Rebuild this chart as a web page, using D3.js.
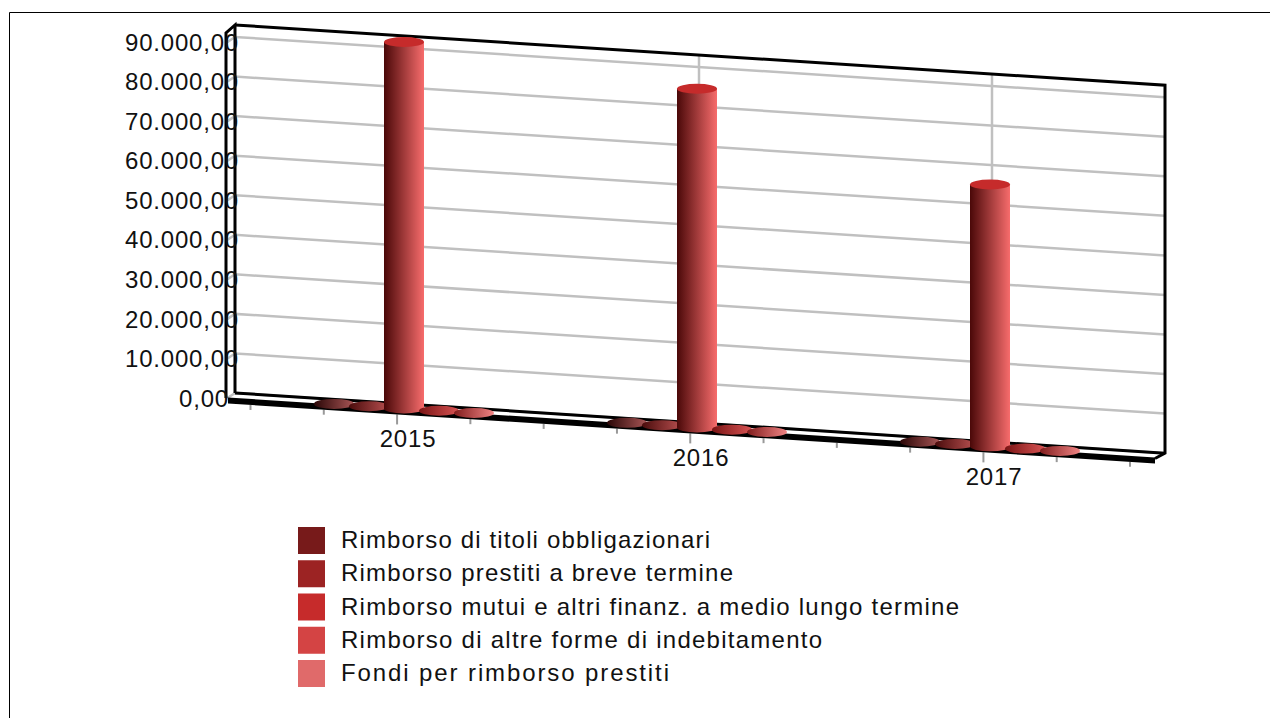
<!DOCTYPE html>
<html>
<head>
<meta charset="utf-8">
<script src="https://cdn.jsdelivr.net/npm/d3@7"></script>
<style>
  html, body { margin: 0; padding: 0; background: #fff; }
  svg { display: block; }
  text { font-family: "Liberation Sans", Arial, sans-serif; fill: #111; }
</style>
</head>
<body>
<div id="chart"></div>
<script>
const years = ["2015", "2016", "2017"];
const seriesNames = [
  "Rimborso di titoli obbligazionari",
  "Rimborso prestiti a breve termine",
  "Rimborso mutui e altri finanz. a medio lungo termine",
  "Rimborso di altre forme di indebitamento",
  "Fondi per rimborso prestiti"
];
const titoli = [0, 0, 0];
const breve = [0, 0, 0];
const mutui = [92650, 85600, 66200];
const altre = [0, 0, 0];
const fondi = [0, 0, 0];
const seriesValues = [titoli, breve, mutui, altre, fondi];
const legendColors = ["#771a1a", "#9c2323", "#c62b2b", "#d44444", "#e06a6a"];
const discStops = [
  ["#2a0606", "#a85656"],
  ["#4a0c0c", "#b85050"],
  ["#4a0808", "#f76c6c"],
  ["#7a1414", "#d85454"],
  ["#801c1c", "#f08484"]
];
const gridTicks = d3.range(0, 90001, 10000);

const width = 1270, height = 718;
const wallLeft = 235, wallRight = 1165;
const slope = 0.0647, depth = 4.5;

const svg = d3.select("#chart").append("svg").attr("width", width).attr("height", height);

const it = d3.formatLocale({ decimal: ",", thousands: ".", grouping: [3], currency: ["", ""] });

// y is read on the back wall, then sheared along the slope of the box
const y = d3.scaleLinear().domain([0, 90000]).range([393, 37]);
const shear = px => slope * (px - wallLeft);
const x = d3.scalePoint().domain(years).range([397, 983]);
const offset = d3.scalePoint().domain(d3.range(5)).range([-70, 70]);
const tickX = d3.scaleLinear().domain([0, 12]).range([250.5, 1130]);
const frontTop = px => 397.5 + slope * (px - 228);
const frontBottom = px => 403.5 + slope * (px - 228);

const defs = svg.append("defs");
discStops.forEach(function(s, i) {
  let g = defs.append("linearGradient").attr("id", "grad" + i);
  g.append("stop").attr("offset", "0%").attr("stop-color", s[0]);
  g.append("stop").attr("offset", "100%").attr("stop-color", s[1]);
});

// page frame
svg.append("path").attr("d", "M9.5,718V12.5H1270").attr("fill", "none").attr("stroke", "#000");

// gridlines
svg.append("g").selectAll("path")
  .data(gridTicks)
  .enter().append("path")
  .attr("d", d => `M226,${y(d) + 6}L${wallLeft},${y(d)}L${wallRight},${y(d) + shear(wallRight)}`)
  .attr("fill", "none")
  .attr("stroke", "#c0c0c0")
  .attr("stroke-width", 2.5);

// drop lines above the columns
const topEdge = px => 25 + shear(px);
svg.append("g").selectAll("line")
  .data(years)
  .enter().append("line")
  .attr("x1", d => x(d) + 9)
  .attr("x2", d => x(d) + 9)
  .attr("y1", d => topEdge(x(d) + 9))
  .attr("y2", d => y(mutui[years.indexOf(d)]) + shear(x(d) + 9))
  .attr("stroke", "#c0c0c0")
  .attr("stroke-width", 2.5);

// category axis ticks
svg.append("g").selectAll("line")
  .data(d3.range(13))
  .enter().append("line")
  .attr("x1", d => tickX(d))
  .attr("x2", d => tickX(d))
  .attr("y1", d => frontBottom(tickX(d)))
  .attr("y2", d => frontBottom(tickX(d)) + (d % 4 === 2 ? 10 : 5))
  .attr("stroke", "#999")
  .attr("stroke-width", 2);

// box outline
const box = svg.append("g").attr("fill", "none").attr("stroke", "#000").attr("stroke-width", 3);
box.append("path").attr("d", `M226,398V33L${wallLeft},25V393`);
box.append("path").attr("d", `M${wallLeft},25L${wallRight},${topEdge(wallRight)}V${393 + shear(wallRight)}L1155,${frontTop(1155) + 1}`);
box.append("path").attr("d", `M${wallLeft},393L${wallRight},${393 + shear(wallRight)}`);
svg.append("path")
  .attr("d", `M228,${frontTop(228)}L1155,${frontTop(1155)}L1155,${frontBottom(1155)}L228,${frontBottom(228)}Z`)
  .attr("fill", "#000");

// columns, one per year and series
const rx = 20, ry = 5;
const columns = svg.append("g");
years.forEach(function(year, yi) {
  seriesValues.forEach(function(values, si) {
    let cx = x(year) + 7 + offset(si);
    let base = y(0) + shear(cx) + depth;
    let top = y(values[yi]) + shear(cx) + depth;
    let g = columns.append("g");
    if (values[yi] > 0) {
      g.append("path")
        .attr("d", `M${cx - rx},${top}V${base}A${rx},${ry} 0 0 0 ${cx + rx},${base}V${top}Z`)
        .attr("fill", `url(#grad${si})`);
      g.append("ellipse")
        .attr("cx", cx).attr("cy", top).attr("rx", rx).attr("ry", ry)
        .attr("fill", legendColors[si]);
    } else {
      g.append("ellipse")
        .attr("cx", cx).attr("cy", base).attr("rx", rx).attr("ry", ry)
        .attr("fill", `url(#grad${si})`);
    }
  });
});

// value axis
const yAxis = d3.axisLeft(y)
  .tickValues(gridTicks)
  .tickSize(0)
  .tickPadding(0)
  .tickFormat(it.format(",.2f"));
const yG = svg.append("g").attr("transform", "translate(239,5.5)").call(yAxis);
yG.select(".domain").remove();
yG.selectAll("text")
  .attr("font-family", null)
  .attr("dx", d => d === 0 ? -10 : 0) // the zero label sits left of the others in the original
  .style("font-size", "24px")
  .style("letter-spacing", "0.8px");

// category labels
svg.append("g").selectAll("text")
  .data(years)
  .enter().append("text")
  .attr("x", d => x(d) + 11)
  .attr("y", d => frontBottom(x(d)) + 33)
  .attr("text-anchor", "middle")
  .style("font-size", "24px")
  .style("letter-spacing", "0.8px")
  .text(d => d);

// legend
const legendWidths = [369, 392, 618, 481, 328];
const legendY = d3.scalePoint().domain(d3.range(5)).range([527, 660]);
const legend = svg.append("g").selectAll("g")
  .data(seriesNames)
  .enter().append("g")
  .attr("transform", (d, i) => `translate(298,${legendY(i)})`);
legend.append("rect")
  .attr("width", 27).attr("height", 27)
  .attr("fill", (d, i) => legendColors[i]);
legend.append("text")
  .attr("x", 43).attr("y", 21)
  .attr("textLength", (d, i) => legendWidths[i])
  .attr("lengthAdjust", "spacing")
  .style("font-size", "24px")
  .text(d => d);
</script>
</body>
</html>
